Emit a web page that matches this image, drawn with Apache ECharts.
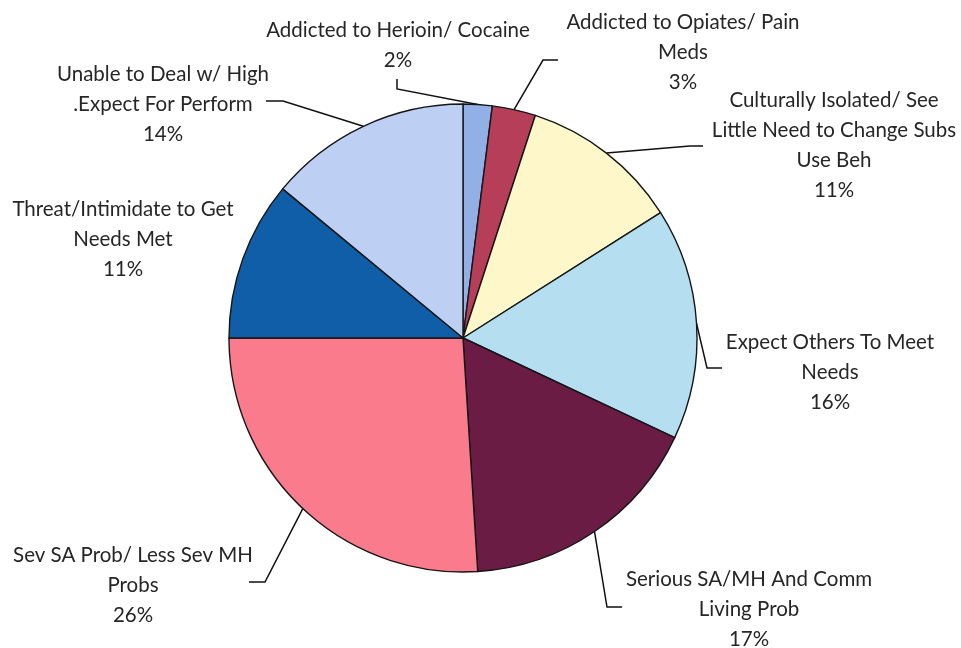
<!DOCTYPE html>
<html>
<head>
<meta charset="utf-8">
<title>Barriers to Change</title>
<script src="https://cdn.jsdelivr.net/npm/echarts@6/dist/echarts.min.js"></script>
<style>
  html, body { margin: 0; padding: 0; background: #ffffff; }
  #chart { width: 961px; height: 648px; }
</style>
</head>
<body>
<div id="chart"></div>
<script>
// Slice names (line breaks as shown in the labels), clockwise from 12 o'clock
const categories = [
  'Addicted to Herioin/ Cocaine',
  'Addicted to Opiates/ Pain\nMeds',
  'Culturally Isolated/ See\nLittle Need to Change Subs\nUse Beh',
  'Expect Others To Meet\nNeeds',
  'Serious SA/MH And Comm\nLiving Prob',
  'Sev SA Prob/ Less Sev MH\nProbs',
  'Threat/Intimidate to Get\nNeeds Met',
  'Unable to Deal w/ High\n.Expect For Perform'
];

// Share of clients, percent
const shares = [2, 3, 11, 16, 17, 26, 11, 14];

const sliceColors = [
  '#93b0e6', '#b63e58', '#fdf7c9', '#b5dff0',
  '#6b1c44', '#f97b8c', '#0f5ea7', '#bdd0f4'
];

// Where each label sits (block centre) and how its leader line bends
const labelPlacement = [
  { x: 398, y: 45,  bend: [397, 89],  end: [397, 79] },
  { x: 683, y: 52,  bend: [543, 60],  end: [558, 60] },
  { x: 834, y: 145, bend: [690, 146], end: [703, 146] },
  { x: 830, y: 372, bend: [707, 368], end: [722, 368] },
  { x: 749, y: 609, bend: [607, 607], end: [622, 607] },
  { x: 133, y: 585, bend: [265, 582], end: [249, 582] },
  { x: 123, y: 239, bend: null,       end: null },
  { x: 163, y: 104, bend: [283, 101], end: [266, 101] }
];

const chart = echarts.init(document.getElementById('chart'), null, { renderer: 'canvas' });

const seriesData = categories.map((name, i) => ({
  name: name,
  value: shares[i],
  itemStyle: { color: sliceColors[i] },
  labelLine: { show: labelPlacement[i].bend !== null }
}));

chart.setOption({
  backgroundColor: '#ffffff',
  animation: false,
  series: [{
    type: 'pie',
    center: [463, 338],
    radius: 234,
    startAngle: 90,
    clockwise: true,
    avoidLabelOverlap: false,
    itemStyle: { borderColor: '#161616', borderWidth: 1.4 },
    label: {
      show: true,
      position: 'outside',
      formatter: p => p.name + '\n' + p.value + '%',
      fontFamily: 'Lato, "Open Sans", sans-serif',
      fontSize: 20.5,
      lineHeight: 30,
      color: '#262626',
      align: 'center'
    },
    labelLine: {
      show: true,
      smooth: false,
      length: 20,
      length2: 15,
      lineStyle: { color: '#111111', width: 1.5 }
    },
    labelLayout: function (params) {
      const pl = labelPlacement[params.dataIndex];
      const out = { x: pl.x, y: pl.y, align: 'center', verticalAlign: 'middle' };
      if (pl.bend && params.labelLinePoints) {
        out.labelLinePoints = [params.labelLinePoints[0], pl.bend, pl.end];
      }
      return out;
    },
    data: seriesData
  }]
});
</script>
</body>
</html>
